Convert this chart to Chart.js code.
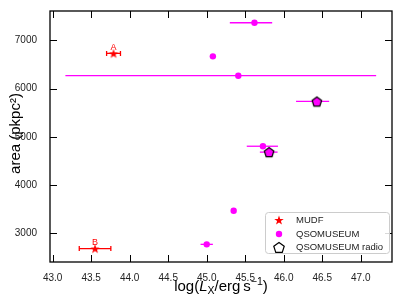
<!DOCTYPE html>
<html>
<head>
<meta charset="utf-8">
<script src="https://cdn.jsdelivr.net/npm/chart.js@4.4.1/dist/chart.umd.min.js"></script>
<style>
  body { margin: 0; background: #fff; }
</style>
</head>
<body>
<canvas id="chartArea" width="399" height="300"></canvas>
<script>
/* MUDF */
const mudfX = [43.79, 43.55];
const mudfY = [6730, 2683];
const mudfXerr = [0.09, 0.205];
const mudfNames = ['A', 'B'];

/* QSOMUSEUM */
const qsoX = [45.62, 45.08, 45.41, 46.43, 45.73, 45.81, 45.35, 45.00];
const qsoY = [7366, 6669, 6268, 5734, 4805, 4683, 3467, 2770];
const qsoXerrLow = [0.32, 0, 2.245, 0.27, 0.21, 0.12, 0, 0.08];
const qsoXerrHigh = [0.23, 0, 1.79, 0.16, 0.195, 0.11, 0, 0.08];

/* QSOMUSEUM radio */
const radioX = [46.43, 45.81];
const radioY = [5734, 4683];

/* ticks */
const xTicks = [43.0, 43.5, 44.0, 44.5, 45.0, 45.5, 46.0, 46.5, 47.0];
const yTicks = [3000, 4000, 5000, 6000, 7000];

const legendNames = ['MUDF', 'QSOMUSEUM', 'QSOMUSEUM radio'];

const FONT = "'Liberation Sans', Arial, sans-serif";
const RED = '#ff0000';
const MAGENTA = '#ff00ff';

function toPoints(xs, ys) {
  let result = [];
  for (let i = 0; i < xs.length; i++) {
    result.push({ x: xs[i], y: ys[i] });
  }
  return result;
}

function makeStar(r, color) {
  const c = document.createElement('canvas');
  const s = Math.ceil(2 * r + 2);
  c.width = s; c.height = s;
  const g = c.getContext('2d');
  g.fillStyle = color;
  g.beginPath();
  for (let i = 0; i < 10; i++) {
    const rad = i % 2 ? r * 0.4 : r;
    const a = -Math.PI / 2 + i * Math.PI / 5;
    const px = s / 2 + rad * Math.cos(a);
    const py = s / 2 + 0.5 + rad * Math.sin(a);
    if (i) g.lineTo(px, py); else g.moveTo(px, py);
  }
  g.closePath();
  g.fill();
  return c;
}

function pentagonPath(g, cx, cy, r) {
  g.beginPath();
  for (let i = 0; i < 5; i++) {
    const a = -Math.PI / 2 + i * 2 * Math.PI / 5;
    const px = cx + r * Math.cos(a);
    const py = cy + r * Math.sin(a);
    if (i) g.lineTo(px, py); else g.moveTo(px, py);
  }
  g.closePath();
}

function makePentagon(r, fill) {
  const c = document.createElement('canvas');
  const s = Math.ceil(2 * r + 4);
  c.width = s; c.height = s;
  const g = c.getContext('2d');
  pentagonPath(g, s / 2, s / 2 + 0.5, r);
  if (fill) { g.fillStyle = fill; g.fill(); }
  g.lineWidth = 1.2;
  g.strokeStyle = '#000';
  g.stroke();
  return c;
}

const starImg = makeStar(5, RED);
const pentImg = makePentagon(5, MAGENTA);

/* error bars under the markers */
const errorBars = {
  id: 'errorBars',
  beforeDatasetsDraw(chart) {
    const ctx = chart.ctx, sx = chart.scales.x, sy = chart.scales.y;
    ctx.save();
    ctx.lineWidth = 1.3;
    ctx.strokeStyle = MAGENTA;
    for (let i = 0; i < qsoX.length; i++) {
      if (!qsoXerrLow[i] && !qsoXerrHigh[i]) continue;
      const y = sy.getPixelForValue(qsoY[i]);
      ctx.beginPath();
      ctx.moveTo(sx.getPixelForValue(qsoX[i] - qsoXerrLow[i]), y);
      ctx.lineTo(sx.getPixelForValue(qsoX[i] + qsoXerrHigh[i]), y);
      ctx.stroke();
    }
    ctx.strokeStyle = RED;
    for (let i = 0; i < mudfX.length; i++) {
      const y = sy.getPixelForValue(mudfY[i]);
      const x0 = sx.getPixelForValue(mudfX[i] - mudfXerr[i]);
      const x1 = sx.getPixelForValue(mudfX[i] + mudfXerr[i]);
      ctx.beginPath();
      ctx.moveTo(x0, y); ctx.lineTo(x1, y);
      ctx.moveTo(x0, y - 2.5); ctx.lineTo(x0, y + 2.5);
      ctx.moveTo(x1, y - 2.5); ctx.lineTo(x1, y + 2.5);
      ctx.stroke();
    }
    ctx.restore();
  }
};

/* frame, inward ticks, labels, titles and legend */
const decorations = {
  id: 'decorations',
  afterDraw(chart) {
    const ctx = chart.ctx, sx = chart.scales.x, sy = chart.scales.y;
    const a = chart.chartArea;
    ctx.save();

    // A / B labels
    ctx.fillStyle = RED;
    ctx.font = '9px ' + FONT;
    ctx.textAlign = 'center';
    ctx.textBaseline = 'alphabetic';
    for (let i = 0; i < mudfX.length; i++) {
      ctx.fillText(mudfNames[i], sx.getPixelForValue(mudfX[i]), sy.getPixelForValue(mudfY[i]) - 3.5);
    }

    // inward ticks
    ctx.strokeStyle = '#000';
    ctx.lineWidth = 1;
    const tl = 7;
    ctx.beginPath();
    for (const v of xTicks) {
      const x = Math.round(sx.getPixelForValue(v)) + 0.5;
      ctx.moveTo(x, a.bottom); ctx.lineTo(x, a.bottom - tl);
      ctx.moveTo(x, a.top); ctx.lineTo(x, a.top + tl);
    }
    for (const v of yTicks) {
      const y = Math.round(sy.getPixelForValue(v)) + 0.5;
      ctx.moveTo(a.left, y); ctx.lineTo(a.left + tl, y);
      ctx.moveTo(a.right, y); ctx.lineTo(a.right - tl, y);
    }
    ctx.stroke();

    // frame
    ctx.lineWidth = 1.3;
    ctx.strokeRect(a.left, a.top, a.right - a.left, a.bottom - a.top);

    // x title: log(L_X / erg s^-1)
    const parts = [
      { t: 'log(', f: '15px ' + FONT, dy: 0 },
      { t: 'L', f: 'italic 15px ' + FONT, dy: 0 },
      { t: 'X', f: '10.5px ' + FONT, dy: 3 },
      { t: '/erg\u2009s', f: '15px ' + FONT, dy: 0 },
      { t: '\u22121', f: '10.5px ' + FONT, dy: -6 },
      { t: ')', f: '15px ' + FONT, dy: 0 }
    ];
    let total = 0;
    for (const p of parts) { ctx.font = p.f; p.w = ctx.measureText(p.t).width; total += p.w; }
    let cx = (a.left + a.right) / 2 - total / 2;
    ctx.fillStyle = '#000';
    ctx.textAlign = 'left';
    ctx.textBaseline = 'alphabetic';
    for (const p of parts) {
      ctx.font = p.f;
      ctx.fillText(p.t, cx, 291 + p.dy);
      cx += p.w;
    }

    // y title
    ctx.save();
    ctx.translate(16, (a.top + a.bottom) / 2 - 3);
    ctx.rotate(-Math.PI / 2);
    ctx.textAlign = 'center';
    ctx.textBaseline = 'middle';
    ctx.font = '15px ' + FONT;
    ctx.fillText('area (pkpc\u00b2)', 0, 0);
    ctx.restore();

    // legend
    const bx = a.right - 127, by = a.bottom - 50, bw = 124, bh = 41;
    ctx.fillStyle = 'rgba(255,255,255,0.85)';
    ctx.strokeStyle = '#cccccc';
    ctx.lineWidth = 1;
    ctx.beginPath();
    ctx.roundRect(bx + 0.5, by + 0.5, bw, bh, 3);
    ctx.fill();
    ctx.stroke();

    const rowY = [by + 8, by + 22, by + 35.5];
    const mx = bx + 14, tx = bx + 31;
    ctx.drawImage(starImg, mx - starImg.width / 2, rowY[0] - starImg.height / 2);
    ctx.fillStyle = MAGENTA;
    ctx.beginPath();
    ctx.arc(mx, rowY[1], 3.2, 0, 2 * Math.PI);
    ctx.fill();
    ctx.strokeStyle = '#000';
    ctx.lineWidth = 1.2;
    pentagonPath(ctx, mx, rowY[2] + 0.5, 5.5);
    ctx.stroke();

    ctx.fillStyle = '#222';
    ctx.font = '9.5px ' + FONT;
    ctx.textAlign = 'left';
    ctx.textBaseline = 'middle';
    for (let i = 0; i < legendNames.length; i++) {
      ctx.fillText(legendNames[i], tx, rowY[i]);
    }
    ctx.restore();
  }
};

const ctx = document.getElementById('chartArea').getContext('2d');
const myChart = new Chart(ctx, {
  type: 'scatter',
  data: {
    datasets: [
      {
        label: legendNames[1],
        data: toPoints(qsoX, qsoY),
        pointStyle: 'circle',
        pointRadius: 3.2,
        pointBackgroundColor: MAGENTA,
        pointBorderWidth: 0,
        order: 3
      },
      {
        label: legendNames[2],
        data: toPoints(radioX, radioY),
        pointStyle: pentImg,
        order: 2
      },
      {
        label: legendNames[0],
        data: toPoints(mudfX, mudfY),
        pointStyle: starImg,
        order: 1
      }
    ]
  },
  options: {
    responsive: false,
    devicePixelRatio: 1,
    animation: false,
    layout: { padding: { top: 6, right: 7, left: 0, bottom: 0 } },
    plugins: {
      legend: { display: false },
      tooltip: { enabled: false }
    },
    scales: {
      x: {
        type: 'linear',
        min: 42.965,
        max: 47.406,
        grid: { display: false },
        border: { display: false },
        afterBuildTicks: s => { s.ticks = xTicks.map(v => ({ value: v })); },
        afterFit: s => { s.height = 38; },
        ticks: {
          callback: v => v.toFixed(1),
          font: { family: FONT, size: 10 },
          color: '#222',
          padding: 2,
          maxRotation: 0,
          autoSkip: false
        }
      },
      y: {
        type: 'linear',
        min: 2404,
        max: 7610,
        grid: { display: false },
        border: { display: false },
        afterBuildTicks: s => { s.ticks = yTicks.map(v => ({ value: v })); },
        afterFit: s => { s.width = 50; },
        ticks: {
          callback: v => String(v),
          font: { family: FONT, size: 10 },
          color: '#222',
          padding: 5
        }
      }
    }
  },
  plugins: [errorBars, decorations]
});
</script>
</body>
</html>
